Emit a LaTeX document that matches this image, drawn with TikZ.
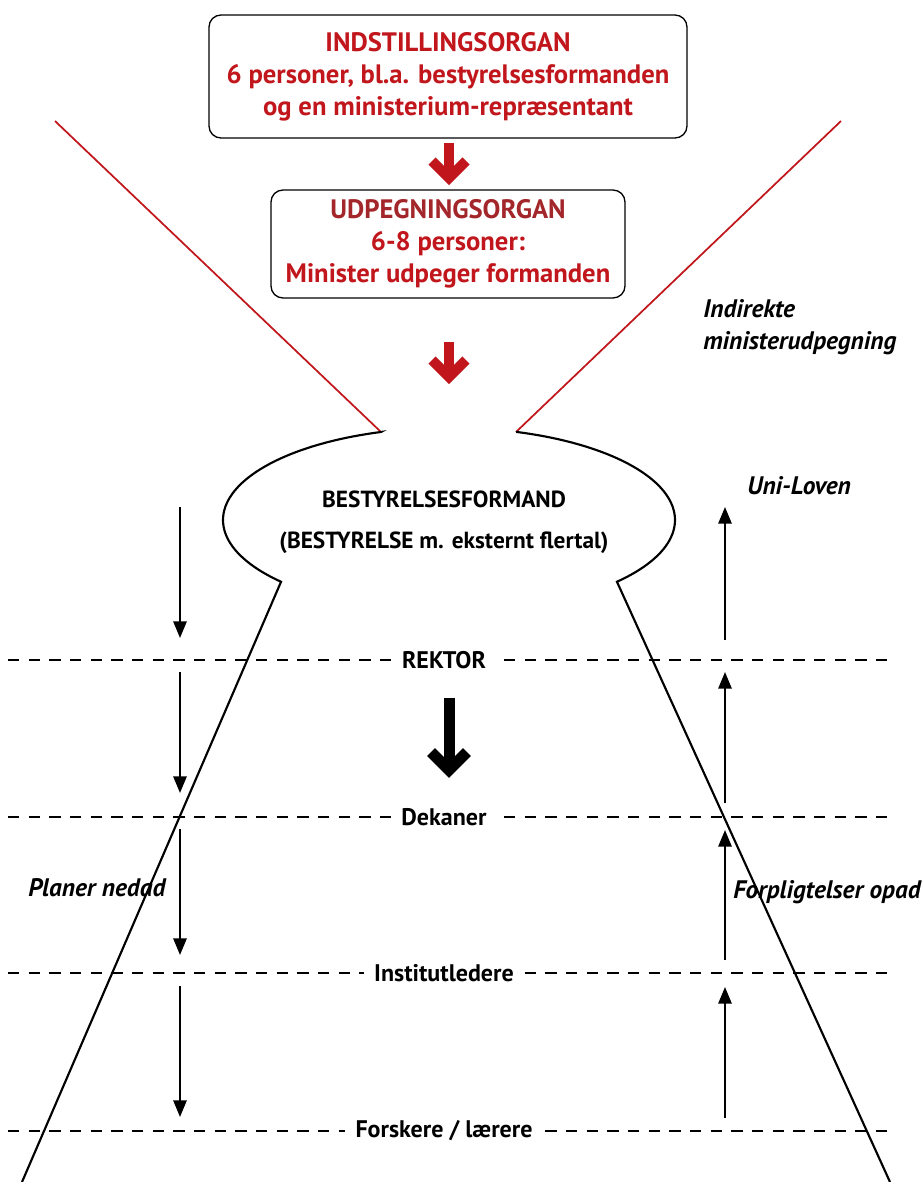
\documentclass[tikz,border=0pt]{standalone}
\usepackage{fontspec}
\setmainfont{PT Sans}
\usetikzlibrary{arrows.meta}
\definecolor{rd}{HTML}{C0161C}
\definecolor{drd}{HTML}{A3262A}
\begin{document}
\begin{tikzpicture}[x=0.75pt,y=-0.75pt,
 boxstyle/.style={draw, line width=1pt, rounded corners=9pt, align=center, font=\bfseries\fontsize{20}{24}\selectfont, text=rd},
 bigarrow/.style={line width=7.5pt, rd},
 blackarrow/.style={line width=8.25pt, black},
 thinarrow/.style={line width=1.4pt, -{Triangle[length=12.5pt,width=10pt]}},
 levelline/.style={line width=1.5pt, dash pattern=on 8.5pt off 7pt},
 levellabel/.style={fill=white, inner xsep=8pt, font=\bfseries\fontsize{18}{20}\selectfont},
 bulbtext/.style={font=\bfseries\fontsize{17.5}{20}\selectfont},
 italabel/.style={inner sep=0pt, font=\bfseries\itshape\fontsize{19}{21}\selectfont},
 outline/.style={line width=1.6pt, line join=miter},
 redline/.style={rd, line width=1.3pt}
]
\useasboundingbox (0,0) rectangle (923,1182);

% boxes
\node[boxstyle, minimum width=358.5pt, minimum height=92.25pt] (box1) at (448,76.5)
  {INDSTILLINGSORGAN\\6 personer, bl.a. bestyrelsesformanden\\og en ministerium-repræsentant};
\node[boxstyle, minimum width=265.5pt, minimum height=81pt] (box2) at (448,244)
  {\textcolor{drd}{UDPEGNINGSORGAN}\\6-8 personer:\\Minister udpeger formanden};

% red arrows
\draw[bigarrow] (449,143) -- (449,176);
\draw[bigarrow, line join=miter] (432,161) -- (449,178) -- (466,161);
\draw[bigarrow] (449,342) -- (449,375);
\draw[bigarrow, line join=miter] (432,360) -- (449,377) -- (466,360);

% red funnel lines
\coordinate (tl) at (381,432);
\coordinate (tr) at (516,432);
\coordinate (rl) at (55,121);
\coordinate (rr) at (841,121);
\draw[redline] (rl) -- (tl);
\draw[redline] (rr) -- (tr);

% dashed level lines
\coordinate (l1a) at (8,660);  \coordinate (l1b) at (890,660);
\coordinate (l2a) at (8,817);  \coordinate (l2b) at (890,817);
\coordinate (l3a) at (8,973);  \coordinate (l3b) at (890,973);
\coordinate (l4a) at (8,1131); \coordinate (l4b) at (890,1131);
\draw[levelline] (l1a) -- (l1b);
\draw[levelline] (l2a) -- (l2b);
\draw[levelline] (l3a) -- (l3b);
\draw[levelline] (l4a) -- (l4b);

% outline (bulb + body)
\coordinate (bl) at (22,1182);
\coordinate (br) at (890,1182);
\draw[outline] (tl) -- plot[domain=107.5:222, samples=60] ({449+226*cos(\x)},{520-92.3*sin(\x)}) -- (bl);
\draw[outline] (tr) -- plot[domain=72.5:-42, samples=60] ({449+226*cos(\x)},{520-92.3*sin(\x)}) -- (br);

% level labels
\node[levellabel] (rek) at (444,660) {REKTOR};
\node[levellabel] (dek) at (444,817) {Dekaner};
\node[levellabel] (inst) at (444,973) {Institutledere};
\node[levellabel] (fl) at (444,1131) {Forskere / lærere};

% bulb text
\node[bulbtext] (formand) at (444,499) {BESTYRELSESFORMAND};
\node[bulbtext] (bestyr) at (444,543) {(BESTYRELSE m. eksternt flertal)};

% big black arrow
\draw[blackarrow] (449,698) -- (449,768);
\draw[blackarrow, line join=miter] (431,752) -- (449,770) -- (467,752);

% thin arrows down (left)
\draw[thinarrow] (180,507) -- (180,638);
\draw[thinarrow] (180,672) -- (180,793);
\draw[thinarrow] (180,829) -- (180,955);
\draw[thinarrow] (180,986) -- (180,1117);
% thin arrows up (right)
\draw[thinarrow] (725,640) -- (725,507);
\draw[thinarrow] (725,803) -- (725,672);
\draw[thinarrow] (725,960) -- (725,830);
\draw[thinarrow] (725,1118) -- (725,987);

% italic labels
\node[italabel, anchor=base west] (ind1) at (703,317) {Indirekte};
\node[italabel, anchor=base west] (ind2) at (703,349) {ministerudpegning};
\node[italabel, anchor=base west] (uni) at (747,494) {Uni-Loven};
\node[italabel, anchor=base west] (planer) at (28,896) {Planer nedad};
\node[italabel, anchor=base west] (forp) at (733,898) {Forpligtelser opad};
\end{tikzpicture}
\end{document}
